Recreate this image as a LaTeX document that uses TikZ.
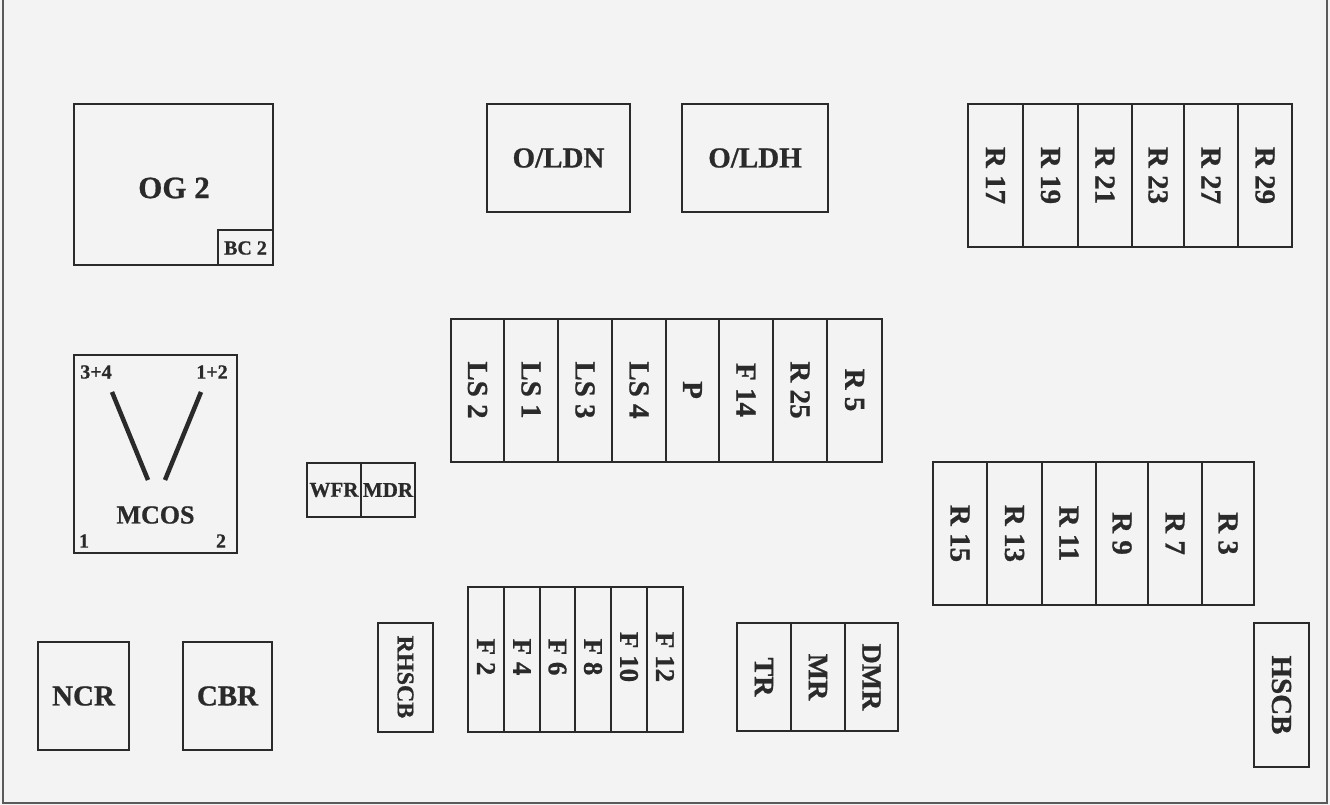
\documentclass[tikz,border=0pt]{standalone}
\usepackage{fontspec}
\setmainfont{Liberation Serif}[BoldFeatures={FakeBold=0.8}]
\definecolor{ink}{HTML}{2A2A2A}
\definecolor{paper}{HTML}{F3F3F3}
\definecolor{framec}{HTML}{5A5A5A}
\begin{document}
\begin{tikzpicture}[x=1pt,y=-1pt,
  box/.style={draw=ink, line width=1.8pt},
  lab/.style={font=\bfseries\fontsize{29}{29}\selectfont, text=ink, inner sep=0pt},
  vlab/.style={lab, rotate=-90},
  small/.style={font=\bfseries\fontsize{20}{20}\selectfont, text=ink, inner sep=0pt},
  frame/.style={draw=framec, line width=2.4pt}]
\fill[paper] (0,0) rectangle (1330,805);
\useasboundingbox (0,0) rectangle (1330,805);
% outer frame
\draw[frame] (3,-2) -- (3,803) -- (1327,803) -- (1327,-2);
% OG 2
\draw[box] (74,104) rectangle (273,265);
\node[lab,font=\bfseries\fontsize{31}{31}\selectfont] (og2) at (174,188) {OG 2};
\draw[box] (218,230) rectangle (273,265);
\node[small] (bc2) at (245.5,248) {BC 2};
% O/LDN, O/LDH
\draw[box] (487,104) rectangle (630,212);
\node[lab] (oldn) at (558.5,158) {O/LDN};
\draw[box] (682,104) rectangle (828,212);
\node[lab] (oldh) at (755,158) {O/LDH};
% R row top right
\foreach \a/\b/\t/\n in {968/1023/R 17/r17, 1023/1078/R 19/r19, 1078/1132/R 21/r21, 1132/1184/R 23/r23, 1184/1238/R 27/r27, 1238/1292/R 29/r29}
  {\draw[box] (\a,104) rectangle (\b,247);
   \node[vlab] (\n) at ({(\a+\b)/2},175.5) {\t};}
% middle row
\foreach \a/\b/\t/\n in {451/504/LS 2/ls2, 504/558/LS 1/ls1, 558/612/LS 3/ls3, 612/666/LS 4/ls4, 666/719/P/p, 719/773/F 14/f14, 773/827/R 25/r25, 827/882/R 5/r5}
  {\draw[box] (\a,319) rectangle (\b,462);
   \node[vlab] (\n) at ({(\a+\b)/2},390) {\t};}
% right middle row
\foreach \a/\b/\t/\n in {933/987/R 15/r15, 987/1042/R 13/r13, 1042/1096/R 11/r11, 1096/1148/R 9/r9, 1148/1202/R 7/r7, 1202/1254/R 3/r3}
  {\draw[box] (\a,462) rectangle (\b,605);
   \node[vlab] (\n) at ({(\a+\b)/2},533.5) {\t};}
% MCOS
\draw[box] (74,355) rectangle (237,553);
\draw[ink, line width=4.5pt] (112,392) -- (148,480);
\draw[ink, line width=4.5pt] (201,392) -- (165,480);
\node[small] (c34) at (96,372) {3+4};
\node[small] (c12) at (212,372) {1+2};
\node[lab,font=\bfseries\fontsize{26}{26}\selectfont] (mcos) at (155.5,515) {MCOS};
\node[small] (c1) at (84,541) {1};
\node[small] (c2) at (221,541) {2};
% WFR MDR
\draw[box] (307,463) rectangle (361,517);
\draw[box] (361,463) rectangle (415,517);
\node[small,font=\bfseries\fontsize{21}{21}\selectfont] (wfr) at (334,490) {WFR};
\node[small,font=\bfseries\fontsize{21}{21}\selectfont] (mdr) at (388,490) {MDR};
% NCR, CBR
\draw[box] (38,642) rectangle (129,750);
\node[lab] (ncr) at (83.5,696) {NCR};
\draw[box] (183,642) rectangle (272,750);
\node[lab] (cbr) at (227.5,696) {CBR};
% RHSCB
\draw[box] (378,623) rectangle (433,732);
\node[vlab,font=\bfseries\fontsize{24}{24}\selectfont] (rhscb) at (405.5,677) {RHSCB};
% F block
\foreach \a/\b/\t/\n in {468/504/F 2/f2, 504/540/F 4/f4, 540/575/F 6/f6, 575/611/F 8/f8, 611/647/F 10/f10, 647/683/F 12/f12}
  {\draw[box] (\a,587) rectangle (\b,732);
   \node[vlab,font=\bfseries\fontsize{27}{27}\selectfont] (\n) at ({(\a+\b)/2},657) {\t};}
% TR MR DMR
\foreach \a/\b/\t/\n in {737/791/TR/tr, 791/845/MR/mr, 845/898/DMR/dmr}
  {\draw[box] (\a,623) rectangle (\b,731);
   \node[vlab,font=\bfseries\fontsize{28}{28}\selectfont] (\n) at ({(\a+\b)/2},677) {\t};}
% HSCB
\draw[box] (1254,623) rectangle (1309,767);
\node[vlab] (hscb) at (1281.5,695) {HSCB};
\end{tikzpicture}
\end{document}
